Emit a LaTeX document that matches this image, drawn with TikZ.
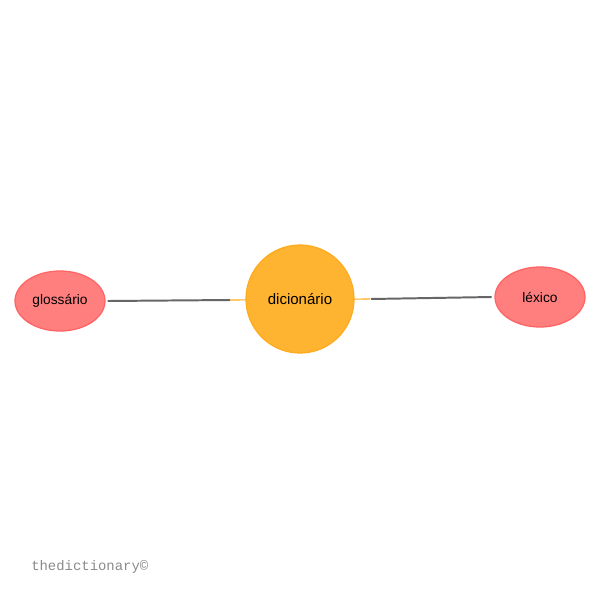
\documentclass[tikz,border=0pt]{standalone}
\usepackage{fontspec}
\setmainfont{Liberation Sans}
\newfontfamily\footfont{Liberation Mono}
\usetikzlibrary{shapes.geometric}
\definecolor{leafFill}{HTML}{FF7F7F}
\definecolor{leafLine}{HTML}{FF6464}
\definecolor{hubFill}{HTML}{FFB431}
\definecolor{hubLine}{HTML}{FFAB1E}
\definecolor{linkGray}{HTML}{666666}
\definecolor{footGray}{HTML}{8A8A8A}
\tikzset{
  leaf/.style={ellipse, draw=leafLine, fill=leafFill, line width=0.9pt,
    minimum width=90*0.025cm, minimum height=60*0.025cm, inner sep=0pt,
    font=\fontsize{9.8pt}{12pt}\selectfont},
  hub/.style={circle, draw=hubLine, fill=hubFill, line width=0.9pt,
    minimum size=108*0.025cm, inner sep=0pt,
    font=\fontsize{10.7pt}{12pt}\selectfont},
  link/.style={draw=linkGray, line width=1.4pt},
  stub/.style={draw=hubLine, line width=0.8pt}
}
\begin{document}
\begin{tikzpicture}[x=0.025cm, y=-0.025cm]
  \useasboundingbox[fill=white] (0,0) rectangle (600,600);
  % joints where the grey links meet the orange stubs
  \coordinate (jl) at (230,300);
  \coordinate (jr) at (370,299);
  \draw[stub] (jl) -- (jr);
  \node[hub] (dic) at (300,299) {dicionário};
  \node[leaf] (glo) at (60,301) {glossário};
  \node[leaf] (lex) at (540,297) {léxico};
  \draw[link] (glo.east) ++(2,0) -- (jl);
  \draw[link] (jr) ++(1,0) -- ([xshift=-2]lex.west);
  \node[anchor=base west, inner sep=0pt, text=footGray,
    font=\footfont\fontsize{9.9pt}{11pt}\selectfont] (foot) at (31,570) {thedictionary©};
\end{tikzpicture}
\end{document}
